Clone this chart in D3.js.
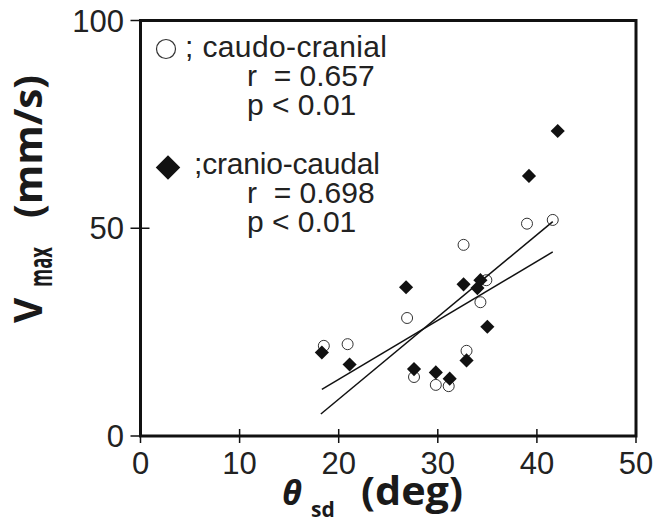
<!DOCTYPE html>
<html>
<head>
<meta charset="utf-8">
<script src="https://cdn.jsdelivr.net/npm/d3@7"></script>
<style>
  body { margin: 0; background: #fff; }
  svg { display: block; }
  .tick-label { font-family: "Liberation Sans Narrow", "Liberation Sans", sans-serif; font-size: 31px; fill: #222; }
  .legend { font-family: "Liberation Sans", Arial, sans-serif; font-size: 30px; fill: #222; }
  .title { font-family: "Open Sans", "DejaVu Sans", sans-serif; font-weight: 700; fill: #1a1a1a; }
</style>
</head>
<body>
<svg id="chart" width="662" height="524"></svg>
<script>
// caudo-cranial (open circles): [theta_sd, Vmax]
const caudoCranial = [
  [18.5, 21.7], [20.9, 22.1], [26.9, 28.4], [27.6, 14.2], [29.8, 12.3], [31.1, 12.0],
  [32.6, 46.0], [32.9, 20.5], [34.3, 32.2], [34.9, 37.5], [39.0, 51.1], [41.6, 52.0]
];

// cranio-caudal (filled diamonds)
const cranioCaudal = [
  [18.3, 20.1], [21.1, 17.2], [26.8, 35.8], [27.6, 16.1], [29.8, 15.3], [31.2, 13.8],
  [32.6, 36.5], [32.9, 18.2], [34.0, 35.6], [34.3, 37.5], [35.0, 26.3], [39.2, 62.6],
  [42.1, 73.4]
];

// regression lines, endpoints
const fitCaudoCranial = [[18.2, 5.3], [41.6, 51.6]];
const fitCranioCaudal = [[18.3, 11.2], [41.6, 44.3]];

const xTicks = [0, 10, 20, 30, 40, 50];
const yTicks = [0, 50, 100];

const legendLines = [
  { sym: 'circle', text: '; caudo-cranial', r: 'r  = 0.657', p: 'p < 0.01' },
  { sym: 'diamond', text: ';cranio-caudal', r: 'r  = 0.698', p: 'p < 0.01' }
];

const svg = d3.select('#chart');
const mLeft = 140.5, mRight = 636, mTop = 20.5, mBottom = 436;

const x = d3.scaleLinear().domain([0, 50]).range([mLeft, mRight]);
const y = d3.scaleLinear().domain([0, 100]).range([mBottom, mTop]);

// frame
svg.append('rect')
  .attr('x', mLeft).attr('y', mTop)
  .attr('width', mRight - mLeft).attr('height', mBottom - mTop)
  .attr('fill', 'none').attr('stroke', '#111').attr('stroke-width', 3);

// x ticks
svg.selectAll('.xt')
  .data(xTicks)
  .join('line')
  .attr('x1', d => x(d)).attr('x2', d => x(d))
  .attr('y1', mBottom - 7).attr('y2', mBottom + 7)
  .attr('stroke', '#111').attr('stroke-width', 1.5);

svg.selectAll('.xl')
  .data(xTicks)
  .join('text')
  .attr('class', 'tick-label')
  .attr('x', d => x(d)).attr('y', 474)
  .attr('text-anchor', 'middle')
  .text(d => d);

// y ticks
svg.selectAll('.yt')
  .data(yTicks)
  .join('line')
  .attr('x1', mLeft - 10).attr('x2', d => d === 100 ? mLeft : mLeft + 9)
  .attr('y1', d => y(d)).attr('y2', d => y(d))
  .attr('stroke', '#111').attr('stroke-width', 1.5);

svg.selectAll('.yl')
  .data(yTicks)
  .join('text')
  .attr('class', 'tick-label')
  .attr('x', 124).attr('y', d => y(d) + 11)
  .attr('text-anchor', 'end')
  .text(d => d);

// circles
svg.append('g')
  .selectAll('circle')
  .data(caudoCranial)
  .join('circle')
  .attr('cx', d => x(d[0])).attr('cy', d => y(d[1]))
  .attr('r', 5.5)
  .attr('fill', '#fff').attr('stroke', '#333').attr('stroke-width', 1);

// fit lines
const line = d3.line().x(d => x(d[0])).y(d => y(d[1]));
[fitCaudoCranial, fitCranioCaudal].forEach(f => {
  svg.append('path')
    .attr('d', line(f))
    .attr('fill', 'none').attr('stroke', '#111').attr('stroke-width', 1.5);
});

// diamonds
const diamond = d3.symbol().type(d3.symbolSquare).size(100);
svg.append('g')
  .selectAll('path')
  .data(cranioCaudal)
  .join('path')
  .attr('d', diamond)
  .attr('transform', d => `translate(${x(d[0])},${y(d[1])}) rotate(45)`)
  .attr('fill', '#111');

// legend
const lg = svg.append('g');
legendLines.forEach((l, i) => {
  const base = 57 + i * 117;
  if (l.sym === 'circle') {
    lg.append('circle').attr('cx', 166).attr('cy', base - 8).attr('r', 9.5)
      .attr('fill', '#fff').attr('stroke', '#333').attr('stroke-width', 1.2);
    lg.append('text').attr('class', 'legend').attr('x', 185).attr('y', base)
      .attr('textLength', 202).text(l.text);
  } else {
    lg.append('path').attr('d', d3.symbol().type(d3.symbolSquare).size(300))
      .attr('transform', `translate(168,${base - 6.5}) rotate(45)`)
      .attr('fill', '#111');
    lg.append('text').attr('class', 'legend').attr('x', 194).attr('y', base)
      .attr('textLength', 186).text(l.text);
  }
  lg.append('text').attr('class', 'legend').attr('x', 247).attr('y', base + 29).attr('xml:space', 'preserve').text(l.r);
  lg.append('text').attr('class', 'legend').attr('x', 247).attr('y', base + 58).text(l.p);
});

// y title
const yt = svg.append('g').attr('transform', 'translate(42,323) rotate(-90)');
yt.append('text').attr('class', 'title').attr('font-size', 39).attr('x', 0).attr('y', 0).text('V');
yt.append('text').attr('class', 'title').attr('font-size', 33).attr('x', 36).attr('y', 10)
  .attr('textLength', 40).attr('lengthAdjust', 'spacingAndGlyphs').text('max');
yt.append('text').attr('class', 'title').attr('font-size', 40).attr('x', 105).attr('y', 0)
  .attr('textLength', 143).attr('lengthAdjust', 'spacingAndGlyphs').text('(mm/s)');

// x title
svg.append('text').attr('class', 'title').attr('font-size', 34).attr('font-style', 'italic')
  .attr('x', 282).attr('y', 505).text('θ');
svg.append('text').attr('class', 'title').attr('font-size', 21)
  .attr('x', 311).attr('y', 517).text('sd');
svg.append('text').attr('class', 'title').attr('font-size', 40)
  .attr('x', 361).attr('y', 505)
  .attr('textLength', 102).attr('lengthAdjust', 'spacingAndGlyphs').text('(deg)');
</script>
</body>
</html>
